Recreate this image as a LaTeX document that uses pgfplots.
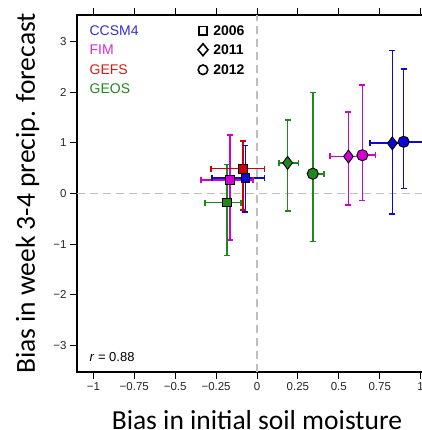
\documentclass[border=0pt]{standalone}
\usepackage{pgfplots}
\pgfplotsset{compat=1.18}
\usepackage{fontspec}
\setmainfont{Liberation Sans}
\newfontfamily\carlito{Carlito}
\definecolor{ccsm}{RGB}{10,10,210}
\definecolor{fim}{RGB}{210,0,210}
\definecolor{gefs}{RGB}{210,0,0}
\definecolor{geos}{RGB}{30,135,30}
\definecolor{refgray}{RGB}{190,190,190}
\pgfplotsset{
 vb/.style={color=#1, line width=1.6bp, mark=-, mark size=3bp, mark options={solid}},
 hb/.style={color=#1, line width=1.6bp, mark=|, mark size=3bp, mark options={solid}},
 mk/.style={only marks, mark options={draw=black, fill=#1, line width=0.9bp, solid}}
}
\begin{document}
\begin{tikzpicture}
\clip (-77bp,-58bp) rectangle (345bp,372bp);
\begin{axis}[
  at={(0,0)}, anchor=south west,
  scale only axis, width=360bp, height=357bp,
  xmin=-1.1, xmax=1.1, ymin=-3.52, ymax=3.52,
  axis line style={line width=1.4bp},
  tick align=outside, major tick length=7bp,
  xtick={-1,-0.75,-0.5,-0.25,0,0.25,0.5,0.75,1},
  xticklabels={−1,−0.75,−0.5,−0.25,0,0.25,0.5,0.75,1},
  ytick={-3,-2,-1,0,1,2,3},
  yticklabels={−3,−2,−1,0,1,2,3},
  xtick pos=both, xticklabel pos=lower, ytick pos=left,
  tick style={line width=0.9bp, black},
  ticklabel style={font=\fontsize{11.5bp}{13bp}\selectfont, text=black!85},
  xlabel={Bias in initial soil moisture},
  ylabel={Bias in week 3-4 precip. forecast},
  label style={font=\carlito\fontsize{27.5bp}{30bp}\selectfont},
  xlabel style={at={([yshift=-57bp]rel axis cs:0.5,0)}, anchor=base},
  ylabel style={at={([xshift=-42bp]rel axis cs:0,0.5)}, anchor=base, rotate=0},
  clip=false,
]
\addplot[refgray, line width=1.2bp, dash pattern=on 8bp off 5bp] coordinates {(0,-3.52) (0,3.52)};
\addplot[refgray, line width=1.2bp, dash pattern=on 8bp off 5bp] coordinates {(-1.1,0) (1.1,0)};
% error bars: GEOS 2006, FIM 2006, GEFS 2006, CCSM4 2006
\addplot[vb=geos] coordinates {(-0.185,-1.22) (-0.185,0.57)};
\addplot[hb=geos] coordinates {(-0.319,-0.18) (-0.096,-0.18)};
\addplot[vb=fim]  coordinates {(-0.166,-0.92) (-0.166,1.15)};
\addplot[hb=fim]  coordinates {(-0.343,0.27) (-0.026,0.27)};
\addplot[vb=gefs] coordinates {(-0.087,-0.33) (-0.087,1.03)};
\addplot[hb=gefs] coordinates {(-0.280,0.49) (0.045,0.49)};
\addplot[vb=ccsm] coordinates {(-0.071,-0.36) (-0.071,0.95)};
\addplot[hb=ccsm] coordinates {(-0.276,0.31) (0.045,0.31)};
% GEOS 2011, 2012
\addplot[vb=geos] coordinates {(0.187,-0.34) (0.187,1.45)};
\addplot[hb=geos] coordinates {(0.136,0.605) (0.254,0.605)};
\addplot[vb=geos] coordinates {(0.341,-0.95) (0.341,1.99)};
\addplot[hb=geos] coordinates {(0.320,0.39) (0.410,0.39)};
% FIM 2011, 2012
\addplot[vb=fim] coordinates {(0.559,-0.23) (0.559,1.61)};
\addplot[hb=fim] coordinates {(0.445,0.73) (0.620,0.73)};
\addplot[vb=fim] coordinates {(0.644,-0.14) (0.644,2.14)};
\addplot[hb=fim] coordinates {(0.620,0.755) (0.724,0.755)};
% CCSM4 2011, 2012
\addplot[vb=ccsm] coordinates {(0.827,-0.40) (0.827,2.82)};
\addplot[hb=ccsm] coordinates {(0.689,0.99) (0.880,0.99)};
\addplot[vb=ccsm] coordinates {(0.896,0.10) (0.896,2.46)};
\addplot[hb=ccsm] coordinates {(0.870,1.02) (1.016,1.02)};
% markers
\addplot[mk=geos, mark=square*, mark size=4.3bp] coordinates {(-0.185,-0.18)};
\addplot[mk=fim, mark=square*, mark size=4.3bp] coordinates {(-0.166,0.27)};
\addplot[mk=ccsm, mark=square*, mark size=4.3bp] coordinates {(-0.071,0.31)};
\addplot[mk=gefs, mark=square*, mark size=4.3bp] coordinates {(-0.087,0.49)};
\addplot[mk=geos, mark=diamond*, mark size=6.5bp] coordinates {(0.187,0.605)};
\addplot[mk=geos, mark=*, mark size=5.6bp] coordinates {(0.341,0.39)};
\addplot[mk=fim, mark=diamond*, mark size=6.5bp] coordinates {(0.559,0.73)};
\addplot[mk=fim, mark=*, mark size=5.6bp] coordinates {(0.644,0.755)};
\addplot[mk=ccsm, mark=diamond*, mark size=6.5bp] coordinates {(0.827,0.99)};
\addplot[mk=ccsm, mark=*, mark size=5.6bp] coordinates {(0.896,1.02)};
% legend texts
\begin{scope}[every node/.style={anchor=west, inner sep=0pt, font=\fontsize{14bp}{16bp}\selectfont}]
\node[text=ccsm!85!white] at (axis cs:-1.024,3.21) {CCSM4};
\node[text=fim!85!white] at (axis cs:-1.024,2.835) {FIM};
\node[text=gefs!90!white] at (axis cs:-1.024,2.44) {GEFS};
\node[text=geos] at (axis cs:-1.024,2.06) {GEOS};
\node at (axis cs:-0.268,3.21) {\bfseries 2006};
\node at (axis cs:-0.268,2.835) {\bfseries 2011};
\node at (axis cs:-0.268,2.44) {\bfseries 2012};
\node[font=\fontsize{13bp}{15bp}\selectfont] at (axis cs:-1.024,-3.215) {\textit{r} = 0.88};
\end{scope}
\draw[line width=1.6bp] ([xshift=-4.2bp,yshift=-4.2bp]axis cs:-0.33,3.21) rectangle ([xshift=4.2bp,yshift=4.2bp]axis cs:-0.33,3.21);
\draw[line width=1.6bp] ([yshift=-6bp]axis cs:-0.33,2.835) -- ([xshift=5bp]axis cs:-0.33,2.835) -- ([yshift=6bp]axis cs:-0.33,2.835) -- ([xshift=-5bp]axis cs:-0.33,2.835) -- cycle;
\draw[line width=1.6bp] (axis cs:-0.33,2.44) circle[radius=4.8bp];
\end{axis}
\end{tikzpicture}
\end{document}
